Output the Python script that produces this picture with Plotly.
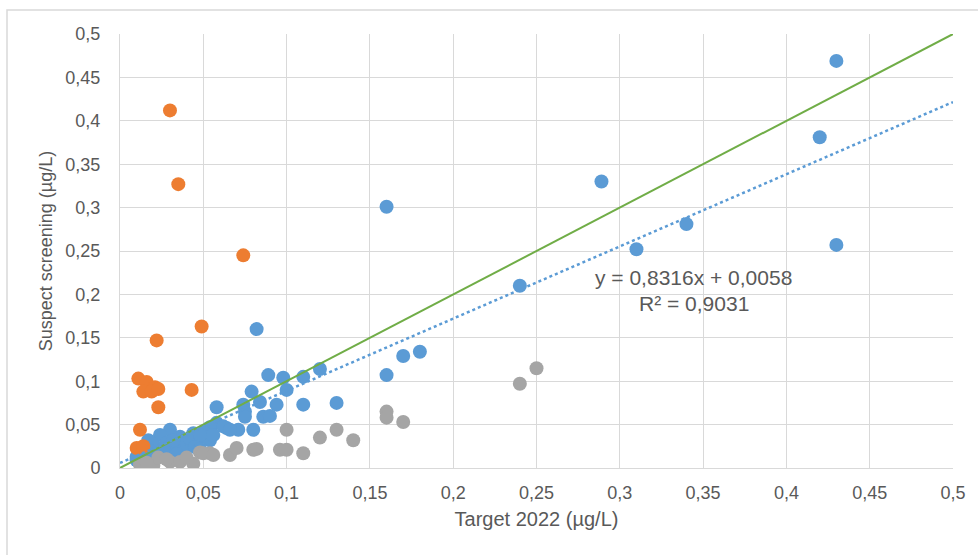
import plotly.graph_objects as go

# ---- data ----
blue_x = [0.430, 0.420, 0.289, 0.310, 0.340, 0.430, 0.160, 0.240, 0.082, 0.180,
          0.170, 0.160, 0.120, 0.110, 0.098, 0.089, 0.100, 0.079, 0.110, 0.130,
          0.094, 0.084, 0.074, 0.075, 0.058, 0.075, 0.086, 0.090, 0.064, 0.071,
          0.080, 0.053, 0.054, 0.058, 0.054, 0.050, 0.044, 0.036, 0.030, 0.024,
          0.017, 0.012, 0.010, 0.014, 0.020, 0.028, 0.034, 0.040, 0.046, 0.052,
          0.056, 0.028, 0.038, 0.022, 0.010, 0.014, 0.042, 0.048, 0.032, 0.026,
          0.018, 0.062, 0.066, 0.045, 0.034, 0.016, 0.048]
blue_y = [0.469, 0.381, 0.330, 0.252, 0.281, 0.257, 0.301, 0.210, 0.160, 0.134,
          0.129, 0.107, 0.114, 0.105, 0.104, 0.107, 0.090, 0.088, 0.073, 0.075,
          0.073, 0.076, 0.073, 0.065, 0.070, 0.059, 0.059, 0.060, 0.046, 0.044,
          0.044, 0.044, 0.032, 0.052, 0.047, 0.042, 0.040, 0.036, 0.044, 0.038,
          0.032, 0.017, 0.013, 0.023, 0.027, 0.029, 0.024, 0.029, 0.030, 0.035,
          0.038, 0.018, 0.018, 0.017, 0.009, 0.011, 0.034, 0.038, 0.032, 0.022,
          0.020, 0.048, 0.044, 0.024, 0.016, 0.014, 0.022]

orange_x = [0.030, 0.035, 0.074, 0.049, 0.022, 0.011, 0.016, 0.021, 0.014, 0.019,
            0.023, 0.043, 0.023, 0.012, 0.010, 0.014]
orange_y = [0.412, 0.327, 0.245, 0.163, 0.147, 0.103, 0.099, 0.093, 0.088, 0.088,
            0.091, 0.090, 0.070, 0.044, 0.023, 0.025]

gray_x = [0.012, 0.020, 0.023, 0.030, 0.036, 0.044, 0.048, 0.054, 0.050, 0.056,
          0.040, 0.028, 0.066, 0.070, 0.080, 0.096, 0.100, 0.110, 0.100, 0.120,
          0.130, 0.140, 0.160, 0.160, 0.170, 0.240, 0.250, 0.016, 0.082]
gray_y = [0.004, 0.003, 0.012, 0.007, 0.007, 0.005, 0.018, 0.017, 0.017, 0.015,
          0.012, 0.010, 0.015, 0.023, 0.021, 0.021, 0.021, 0.017, 0.044, 0.035,
          0.044, 0.032, 0.065, 0.058, 0.053, 0.097, 0.115, 0.006, 0.022]

identity_x = [0, 0.5]
identity_y = [0, 0.5]

trend_slope = 0.8316
trend_intercept = 0.0058
trend_x = [0, 0.5]
trend_y = [trend_slope * v + trend_intercept for v in trend_x]

tick_vals = [0, 0.05, 0.1, 0.15, 0.2, 0.25, 0.3, 0.35, 0.4, 0.45, 0.5]
tick_text = ["0", "0,05", "0,1", "0,15", "0,2", "0,25", "0,3", "0,35", "0,4", "0,45", "0,5"]

eq_text = "y = 0,8316x + 0,0058"
r2_text = "R² = 0,9031"

# ---- figure ----
FONT = "Liberation Sans, Arial, sans-serif"
TXT = "#595959"
GRID = "#D9D9D9"

fig = go.Figure()
mk = dict(size=14, line=dict(width=0))
fig.add_trace(go.Scatter(x=blue_x, y=blue_y, mode="markers",
                         marker=dict(color="#5B9BD5", **mk), showlegend=False))
fig.add_trace(go.Scatter(x=orange_x, y=orange_y, mode="markers",
                         marker=dict(color="#ED7D31", **mk), showlegend=False))
fig.add_trace(go.Scatter(x=gray_x, y=gray_y, mode="markers",
                         marker=dict(color="#A5A5A5", **mk), showlegend=False))
fig.add_trace(go.Scatter(x=identity_x, y=identity_y, mode="lines",
                         line=dict(color="#70AD47", width=2), showlegend=False))
fig.add_trace(go.Scatter(x=trend_x, y=trend_y, mode="lines",
                         line=dict(color="#5B9BD5", width=2.5, dash="dot"), showlegend=False))

axis_common = dict(range=[0, 0.5], tickvals=tick_vals, ticktext=tick_text,
                   showgrid=True, gridcolor=GRID, gridwidth=1,
                   zeroline=False, showline=True, linecolor=GRID, linewidth=1,
                   ticks="", tickfont=dict(family=FONT, size=18, color=TXT),
                   fixedrange=True)

fig.update_xaxes(**axis_common, ticklabelstandoff=8,
                 title=dict(text="Target 2022 (µg/L)", standoff=10,
                            font=dict(family=FONT, size=20, color=TXT)))
fig.update_yaxes(**axis_common, ticklabelstandoff=15,
                 title=dict(text="Suspect screening (µg/L)", standoff=8,
                            font=dict(family=FONT, size=18, color=TXT)))

fig.add_annotation(x=0.3445, y=0.220, xref="x", yref="y", text=eq_text,
                   showarrow=False, font=dict(family=FONT, size=21, color=TXT))
fig.add_annotation(x=0.3445, y=0.189, xref="x", yref="y", text=r2_text,
                   showarrow=False, font=dict(family=FONT, size=21, color=TXT))

# outer chart border
fig.add_shape(type="rect", xref="paper", yref="paper",
              x0=(7 - 120) / 833, x1=(990 - 120) / 833,
              y0=(468 - 570) / 434, y1=(468 - 10) / 434,
              line=dict(color=GRID, width=1.5), fillcolor="rgba(0,0,0,0)", layer="below")

fig.update_layout(width=978, height=555,
                  margin=dict(l=120, r=25, t=34, b=87),
                  paper_bgcolor="white", plot_bgcolor="white",
                  showlegend=False)

fig.write_html("out.html")
